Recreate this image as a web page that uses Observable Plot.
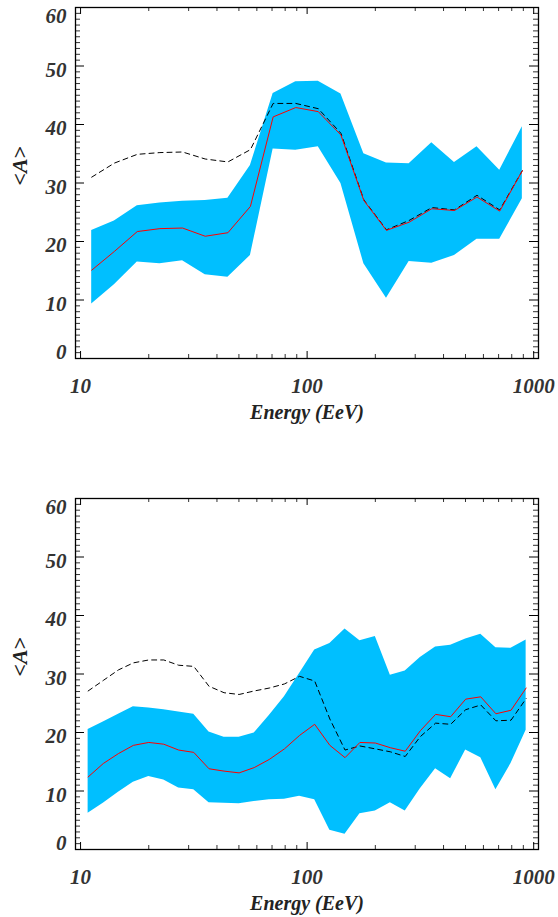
<!DOCTYPE html>
<html><head><meta charset="utf-8">
<script src="https://cdn.jsdelivr.net/npm/d3@7"></script>
<script src="https://cdn.jsdelivr.net/npm/@observablehq/plot@0.6"></script>
<style>body{margin:0;background:#fff;} svg{display:block;}</style>
</head><body><div id="chart"></div>
<script>
// ---- Top panel data ----
const energyTop = [11.2, 14.1, 17.8, 22.4, 28.2, 35.5, 44.7, 56.2, 70.8, 89.1, 112, 141, 178, 224, 282, 355, 447, 562, 708, 891];
const upperTop  = [21.9, 23.5, 26.1, 26.6, 26.9, 27.0, 27.4, 33.0, 45.3, 47.3, 47.4, 45.2, 35.0, 33.4, 33.3, 36.9, 33.5, 36.2, 32.2, 39.6];
const lowerTop  = [9.3, 12.6, 16.5, 16.2, 16.7, 14.3, 13.9, 17.6, 35.8, 35.6, 36.2, 29.9, 16.2, 10.3, 16.6, 16.3, 17.6, 20.4, 20.4, 27.3];
const redTop    = [15.1, 18.3, 21.7, 22.2, 22.3, 20.9, 21.5, 26.0, 41.3, 42.9, 42.2, 38.2, 27.0, 21.9, 23.3, 25.6, 25.3, 27.6, 25.2, 32.1];
const dashTop   = [31.0, 33.4, 34.9, 35.2, 35.3, 34.1, 33.6, 35.7, 43.6, 43.6, 42.7, 38.5, 27.1, 22.0, 23.6, 25.8, 25.4, 27.9, 25.4, 32.1];

// ---- Bottom panel data ----
const energyBot = [10.8, 12.6, 14.7, 17.1, 20.0, 23.3, 27.1, 31.6, 36.9, 43.0, 50.1, 58.4, 68.1, 79.4, 92.6, 108, 126, 147, 171, 200, 233, 271, 316, 369, 430, 501, 584, 681, 794, 926];
const upperBot  = [20.5, 21.8, 23.1, 24.4, 24.2, 23.9, 23.5, 23.1, 20.1, 19.2, 19.2, 19.9, 22.9, 26.1, 30.1, 34.1, 35.2, 37.7, 35.7, 36.4, 29.8, 30.5, 32.8, 34.6, 34.9, 36.0, 36.8, 34.5, 34.4, 35.8];
const lowerBot  = [6.2, 7.9, 9.8, 11.5, 12.5, 11.9, 10.5, 10.2, 8.0, 7.9, 7.8, 8.2, 8.5, 8.6, 9.1, 8.5, 3.3, 2.6, 6.1, 6.6, 8.0, 6.6, 10.4, 13.8, 12.1, 17.0, 15.7, 10.2, 14.7, 20.4];
const redBot    = [12.4, 14.7, 16.4, 17.8, 18.3, 18.0, 17.0, 16.6, 13.8, 13.4, 13.1, 14.0, 15.4, 17.2, 19.5, 21.4, 17.8, 15.7, 18.3, 18.2, 17.4, 16.8, 20.3, 23.1, 22.7, 25.7, 26.1, 23.2, 23.8, 27.6];
const dashBot   = [27.1, 28.9, 30.7, 31.9, 32.4, 32.4, 31.5, 31.3, 27.9, 26.8, 26.5, 27.1, 27.6, 28.3, 29.6, 28.8, 22.3, 17.0, 17.7, 17.2, 16.7, 15.9, 19.3, 21.6, 21.4, 23.9, 24.7, 22.0, 22.1, 25.8];

// ---- Axis ticks and labels ----
const xMajorTicks = [10, 100, 1000];
const xMinorTicks = [20, 30, 40, 50, 60, 70, 80, 90, 200, 300, 400, 500, 600, 700, 800, 900];
const yMajorTicks = [0, 10, 20, 30, 40, 50, 60];
const yMinorTicks = d3.range(0, 61).filter(v => v % 10 !== 0);
const xTitle = "Energy (EeV)";
const yTitle = "<A>";

const W = 558, ML = 75, MR = 20;
const FONT = "Liberation Serif, Times New Roman, serif";

function panel(E, hi, lo, red, dash, height, mt, mb) {
  const fw = W - ML - MR, fh = height - mt - mb;
  const rows = E.map((e, i) => ({E: e, hi: hi[i], lo: lo[i], red: red[i], dash: dash[i]}));
  const txt = {fontFamily: FONT, fontWeight: "bold", fontStyle: "italic", fill: "#333"};
  const svg = Plot.plot({
    width: W, height, marginLeft: ML, marginRight: MR, marginTop: mt, marginBottom: mb,
    x: {type: "log", domain: [9.5, 1050], label: null},
    y: {domain: [0, 60], label: null},
    style: {fontFamily: FONT, background: "#fff", color: "#333"},
    marks: [
      Plot.areaY(rows, {x: "E", y1: "lo", y2: "hi", fill: "#00BFFF", curve: "linear"}),
      Plot.line(rows, {x: "E", y: "dash", stroke: "#000", strokeWidth: 1, strokeDasharray: "5,4"}),
      Plot.line(rows, {x: "E", y: "red", stroke: "#f00", strokeWidth: 1}),
      // y ticks (inside, left and right)
      Plot.tickY(yMinorTicks, {y: d => d, stroke: "#333", insetRight: fw - 5}),
      Plot.tickY(yMinorTicks, {y: d => d, stroke: "#333", insetLeft: fw - 5}),
      Plot.tickY(yMajorTicks, {y: d => d, stroke: "#000", insetRight: fw - 9}),
      Plot.tickY(yMajorTicks, {y: d => d, stroke: "#000", insetLeft: fw - 9}),
      // x ticks (inside, bottom and top)
      Plot.tickX(xMinorTicks, {x: d => d, stroke: "#333", insetTop: fh - 4}),
      Plot.tickX(xMinorTicks, {x: d => d, stroke: "#333", insetBottom: fh - 4}),
      Plot.tickX(xMajorTicks, {x: d => d, stroke: "#000", insetTop: fh - 7}),
      Plot.tickX(xMajorTicks, {x: d => d, stroke: "#000", insetBottom: fh - 7}),
      Plot.frame({stroke: "#000", strokeWidth: 1.3}),
      // labels
      Plot.axisY([10, 20, 30, 40, 50], {anchor: "left", label: null, tickSize: 0, tickPadding: 9, dy: 4, fontSize: 21, ...txt}),
      Plot.axisY([60], {anchor: "left", label: null, tickSize: 0, tickPadding: 9, dy: 9, fontSize: 21, ...txt}),
      Plot.axisY([0], {anchor: "left", label: null, tickSize: 0, tickPadding: 9, dy: -6, fontSize: 21, ...txt}),
      Plot.axisX(xMajorTicks, {anchor: "bottom", label: null, tickSize: 0, tickPadding: 20, tickFormat: d => String(d), fontSize: 21, ...txt}),
      Plot.text([xTitle], {frameAnchor: "bottom", dy: 60, fontSize: 20, ...txt, fill: "#222"}),
      Plot.text([yTitle], {frameAnchor: "left", dx: -56, dy: 2.5, rotate: -90, fontSize: 22, fontFamily: FONT, fontWeight: "bold", fill: "#222"})
    ]
  });
  // italic A inside the upright angle brackets
  d3.select(svg).selectAll("text").filter(function() { return this.textContent === yTitle; })
    .each(function() {
      const t = d3.select(this);
      t.text(null);
      t.append("tspan").text("<");
      t.append("tspan").attr("font-style", "italic").text("A");
      t.append("tspan").text(">");
    });
  return svg;
}

const root = document.getElementById("chart");
root.appendChild(panel(energyTop, upperTop, lowerTop, redTop, dashTop, 492, 7, 134));
root.appendChild(panel(energyBot, upperBot, lowerBot, redBot, dashBot, 425, 6, 68));
</script>
</body></html>
